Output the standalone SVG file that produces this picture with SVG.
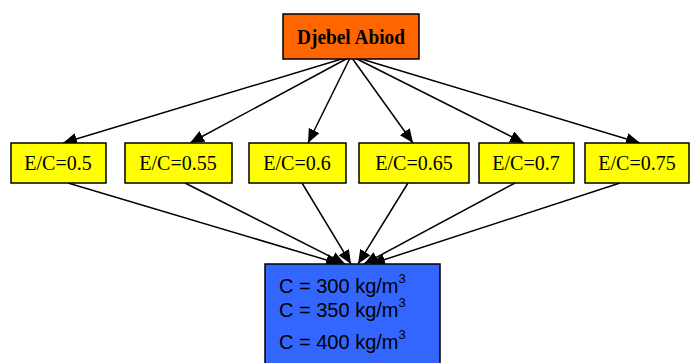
<svg xmlns="http://www.w3.org/2000/svg" width="693" height="363" viewBox="0 0 693 363">
<defs>
<style>
.box{stroke:#000;stroke-width:1.5}
.ec{fill:#FFFF00}
.t{font-family:"Liberation Serif",serif;font-size:20px;fill:#000;text-anchor:middle}
.s{font-family:"Liberation Sans",Arial,sans-serif;font-size:20px;fill:#000}
.c{stroke:#000;stroke-width:1.5;fill:none;marker-end:url(#a)}
</style>
<marker id="a" viewBox="0 0 14 12" refX="14" refY="6" markerWidth="14" markerHeight="12" markerUnits="userSpaceOnUse" orient="auto">
<path d="M0,0 L14,6 L0,12 z" fill="#000"/>
</marker>
</defs>
<rect width="693" height="363" fill="#fff"/>
<g id="connectors">
<line class="c" x1="345" y1="58" x2="63" y2="143"/>
<line class="c" x1="348" y1="58" x2="190" y2="143"/>
<line class="c" x1="350" y1="58" x2="308" y2="143"/>
<line class="c" x1="352" y1="58" x2="413" y2="143"/>
<line class="c" x1="355" y1="58" x2="524" y2="143"/>
<line class="c" x1="358" y1="58" x2="640" y2="143"/>
<line class="c" x1="68" y1="183" x2="340" y2="264"/>
<line class="c" x1="185" y1="183" x2="345" y2="264"/>
<line class="c" x1="302" y1="183" x2="351" y2="264"/>
<line class="c" x1="408" y1="183" x2="358" y2="264"/>
<line class="c" x1="515" y1="183" x2="364" y2="264"/>
<line class="c" x1="620" y1="183" x2="371" y2="264"/>
</g>
<g id="top">
<rect class="box" x="283" y="14" width="136" height="45" fill="#FF6600"/>
<text class="t" x="351" y="44" font-weight="bold" textLength="108" lengthAdjust="spacingAndGlyphs">Djebel Abiod</text>
</g>
<g id="ec05">
<rect class="box ec" x="11" y="143" width="95" height="40"/>
<text class="t" x="58" y="170">E/C=0.5</text>
</g>
<g id="ec055">
<rect class="box ec" x="125" y="143" width="107" height="40"/>
<text class="t" x="178" y="170">E/C=0.55</text>
</g>
<g id="ec06">
<rect class="box ec" x="249" y="143" width="97" height="40"/>
<text class="t" x="297" y="170">E/C=0.6</text>
</g>
<g id="ec065">
<rect class="box ec" x="359" y="143" width="110" height="40"/>
<text class="t" x="414" y="170">E/C=0.65</text>
</g>
<g id="ec07">
<rect class="box ec" x="479" y="143" width="95" height="40"/>
<text class="t" x="526" y="170">E/C=0.7</text>
</g>
<g id="ec075">
<rect class="box ec" x="585" y="143" width="104" height="40"/>
<text class="t" x="637" y="170">E/C=0.75</text>
</g>
<g id="cement">
<rect class="box" x="265" y="264" width="175" height="110" fill="#3366FF"/>
<text class="s" x="279" y="293">C = 300 kg/m<tspan font-size="13" dy="-10">3</tspan></text>
<text class="s" x="279" y="317">C = 350 kg/m<tspan font-size="13" dy="-10">3</tspan></text>
<text class="s" x="279" y="349">C = 400 kg/m<tspan font-size="13" dy="-10">3</tspan></text>
</g>
</svg>
